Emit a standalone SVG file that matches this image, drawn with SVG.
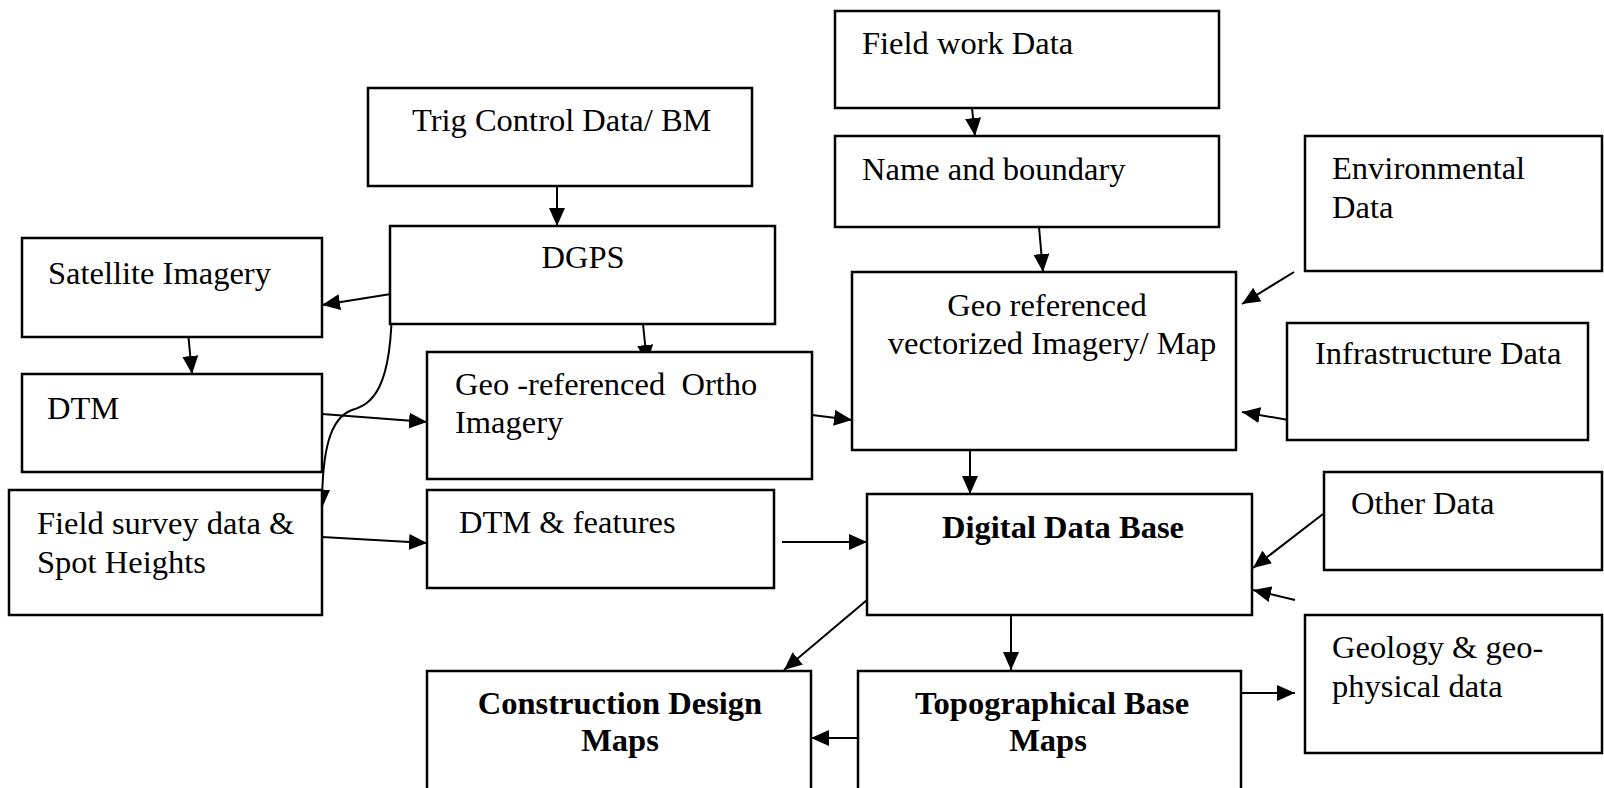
<svg xmlns="http://www.w3.org/2000/svg" width="1604" height="788" viewBox="0 0 1604 788">
<defs>
<marker id="ah" markerWidth="19" markerHeight="16" refX="18" refY="8" orient="auto" markerUnits="userSpaceOnUse">
<path d="M0,0 L18,8 L0,16 z" fill="#000"/>
</marker>
<style>
.b{fill:#fff;stroke:#000;stroke-width:2.5}
.t{font-family:"Liberation Serif","Times New Roman",serif;font-size:32.5px;fill:#000}
.tb{font-family:"Liberation Serif","Times New Roman",serif;font-size:32.5px;font-weight:bold;fill:#000}
.c{fill:none;stroke:#000;stroke-width:2;marker-end:url(#ah)}
</style>
</defs>
<rect width="1604" height="788" fill="#fff"/>
<g id="connectors">
<path class="c" d="M557,186 L557,226"/>
<path class="c" d="M391,294 L322,305"/>
<path class="c" d="M392,300 C392,390 372,404 352,410 C330,418 322,450 322,508"/>
<path class="c" d="M188,332 L192,374"/>
<path class="c" d="M322,414 L427,422"/>
<path class="c" d="M322,537 L427,543"/>
<path class="c" d="M643,324 L647,363"/>
<path class="c" d="M812,415 L852,420"/>
<path class="c" d="M972,108 L975,136"/>
<path class="c" d="M1039,227 L1043,272"/>
<path class="c" d="M1294,272 L1242,304"/>
<path class="c" d="M1300,422 L1242,412"/>
<path class="c" d="M970,440 L970,494"/>
<path class="c" d="M782,542 L867,542"/>
<path class="c" d="M1323,514 L1253,568"/>
<path class="c" d="M1295,600 L1253,590"/>
<path class="c" d="M867,600 L784,670"/>
<path class="c" d="M1011,615 L1011,670"/>
<path class="c" d="M858,738 L811,738"/>
<path class="c" d="M1241,693 L1295,693"/>
</g>
<g id="trig"><rect class="b" x="368" y="88" width="384" height="98"/><text class="t" x="412" y="131">Trig Control Data/ BM</text></g>
<g id="fieldwork"><rect class="b" x="835" y="11" width="384" height="97"/><text class="t" x="862" y="54">Field work Data</text></g>
<g id="name"><rect class="b" x="835" y="136" width="384" height="91"/><text class="t" x="862" y="180">Name and boundary</text></g>
<g id="env"><rect class="b" x="1305" y="136" width="297" height="135"/><text class="t" x="1332" y="179">Environmental</text><text class="t" x="1332" y="218">Data</text></g>
<g id="satellite"><rect class="b" x="22" y="238" width="300" height="99"/><text class="t" x="48" y="284">Satellite Imagery</text></g>
<g id="dgps"><rect class="b" x="390" y="226" width="385" height="98"/><text class="t" x="583" y="268" text-anchor="middle">DGPS</text></g>
<g id="geovec"><rect class="b" x="852" y="272" width="384" height="178"/><text class="t" x="1047" y="316" text-anchor="middle">Geo referenced</text><text class="t" x="1052" y="354" text-anchor="middle">vectorized Imagery/ Map</text></g>
<g id="infra"><rect class="b" x="1287" y="323" width="301" height="117"/><text class="t" x="1315" y="364">Infrastructure Data</text></g>
<g id="dtm"><rect class="b" x="22" y="374" width="300" height="98"/><text class="t" x="47" y="419">DTM</text></g>
<g id="ortho"><rect class="b" x="427" y="352" width="385" height="127"/><text class="t" x="455" y="395">Geo -referenced&#160; Ortho</text><text class="t" x="455" y="433">Imagery</text></g>
<g id="fieldsurvey"><rect class="b" x="9" y="490" width="313" height="125"/><text class="t" x="37" y="534">Field survey data &amp;</text><text class="t" x="37" y="573">Spot Heights</text></g>
<g id="dtmfeatures"><rect class="b" x="427" y="490" width="347" height="98"/><text class="t" x="459" y="533">DTM &amp; features</text></g>
<g id="ddb"><rect class="b" x="867" y="494" width="385" height="121"/><text class="tb" x="1063" y="538" text-anchor="middle">Digital Data Base</text></g>
<g id="other"><rect class="b" x="1324" y="472" width="278" height="98"/><text class="t" x="1351" y="514">Other Data</text></g>
<g id="geology"><rect class="b" x="1305" y="615" width="297" height="138"/><text class="t" x="1332" y="658">Geology &amp; geo-</text><text class="t" x="1332" y="697">physical data</text></g>
<g id="construction"><rect class="b" x="427" y="671" width="384" height="140"/><text class="tb" x="620" y="714" text-anchor="middle">Construction Design</text><text class="tb" x="620" y="751" text-anchor="middle">Maps</text></g>
<g id="topo"><rect class="b" x="858" y="671" width="383" height="140"/><text class="tb" x="1052" y="714" text-anchor="middle">Topographical Base</text><text class="tb" x="1048" y="751" text-anchor="middle">Maps</text></g>
</svg>
